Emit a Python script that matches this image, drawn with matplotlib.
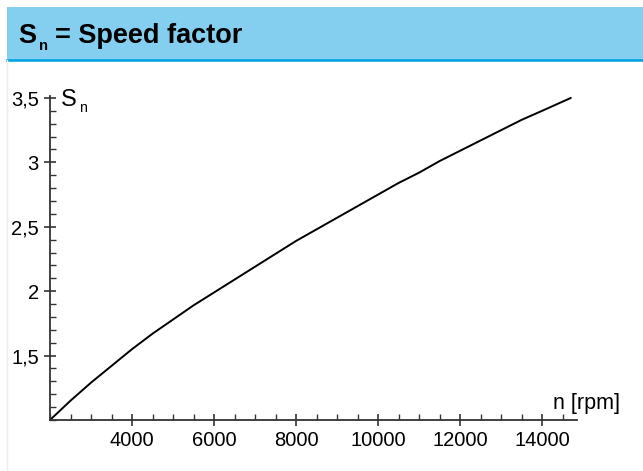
import matplotlib
matplotlib.use("Agg")
import matplotlib.pyplot as plt
from matplotlib.patches import Rectangle
from matplotlib.lines import Line2D
from matplotlib.ticker import FixedLocator, MultipleLocator

# Data
speed_rpm = [2000, 2500, 3000, 3500, 4000, 4500, 5000, 5500, 6000, 6500, 7000,
             7500, 8000, 8500, 9000, 9500, 10000, 10500, 11000, 11500, 12000,
             12500, 13000, 13500, 14000, 14700]
speed_factor = [1.00, 1.15, 1.29, 1.42, 1.55, 1.67, 1.78, 1.89, 1.99, 2.09, 2.19,
                2.29, 2.39, 2.48, 2.57, 2.66, 2.75, 2.84, 2.92, 3.01, 3.09,
                3.17, 3.25, 3.33, 3.40, 3.50]
x_ticks = [4000, 6000, 8000, 10000, 12000, 14000]
x_tick_labels = ["4000", "6000", "8000", "10000", "12000", "14000"]
y_ticks = [1.5, 2.0, 2.5, 3.0, 3.5]
y_tick_labels = ["1,5", "2", "2,5", "3", "3,5"]

W, H = 643, 471
plt.rcParams['font.family'] = ['Liberation Sans', 'DejaVu Sans']
fig = plt.figure(figsize=(W / 100, H / 100), dpi=100)
fig.patch.set_facecolor('white')

# header band
fig.patches.append(Rectangle((7 / W, 1 - 60 / H), 1, 53 / H, transform=fig.transFigure,
                             facecolor='#84CFEF', edgecolor='none', zorder=0))
fig.lines.append(Line2D([7 / W, 1], [1 - 60 / H, 1 - 60 / H], transform=fig.transFigure,
                        color='#009FE3', lw=1.8))
fig.lines.append(Line2D([7 / W, 7 / W], [0, 1 - 60 / H], transform=fig.transFigure,
                        color='#EDEDED', lw=1.0))

renderer = fig.canvas.get_renderer()


def sub_label(x_px, y_px, size, weight, sub_ratio, rest="", gap=0.0):
    """Draw 'S' with a small lowered subscript 'n', then optional rest text."""
    t = fig.text(x_px / W, 1 - y_px / H, "S", fontsize=size, fontweight=weight,
                 ha='left', va='baseline')
    bb = t.get_window_extent(renderer)
    n = fig.text((bb.x1 + size * 0.15) / W, 1 - (y_px + size * 0.35) / H, "n",
                 fontsize=size * sub_ratio, fontweight=weight, ha='left', va='baseline')
    if rest:
        bb2 = n.get_window_extent(renderer)
        fig.text((bb2.x1 + gap) / W, 1 - y_px / H, rest, fontsize=size,
                 fontweight=weight, ha='left', va='baseline')


sub_label(18, 43, 19.5, 'bold', 0.55, "= Speed factor", gap=7)

ax = fig.add_axes([50 / W, 1 - 420 / H, (577 - 50) / W, (420 - 96) / H])
ax.plot(speed_rpm, speed_factor, color='black', lw=1.4, solid_capstyle='round')
ax.set_xlim(2000, 14850)
ax.set_ylim(1.0, 3.515)
for s in ['top', 'right']:
    ax.spines[s].set_visible(False)
for s in ['left', 'bottom']:
    ax.spines[s].set_color('#333333')
    ax.spines[s].set_linewidth(1.3)

ax.xaxis.set_major_locator(FixedLocator(x_ticks))
ax.set_xticklabels(x_tick_labels)
ax.xaxis.set_minor_locator(MultipleLocator(500))
ax.yaxis.set_major_locator(FixedLocator(y_ticks))
ax.set_yticklabels(y_tick_labels)
ax.yaxis.set_minor_locator(MultipleLocator(0.1))
ax.tick_params(which='major', direction='inout', length=8, width=1.2, color='#333333',
               labelsize=14.5, pad=4)
ax.tick_params(which='minor', direction='in', length=4, width=1.0, color='#333333')

sub_label(61, 106, 17, 'normal', 0.6)
fig.text(620 / W, 1 - 403 / H, "n [rpm]", fontsize=15.5, ha='right', va='center')

fig.savefig("out.png", dpi=100, facecolor='white')
